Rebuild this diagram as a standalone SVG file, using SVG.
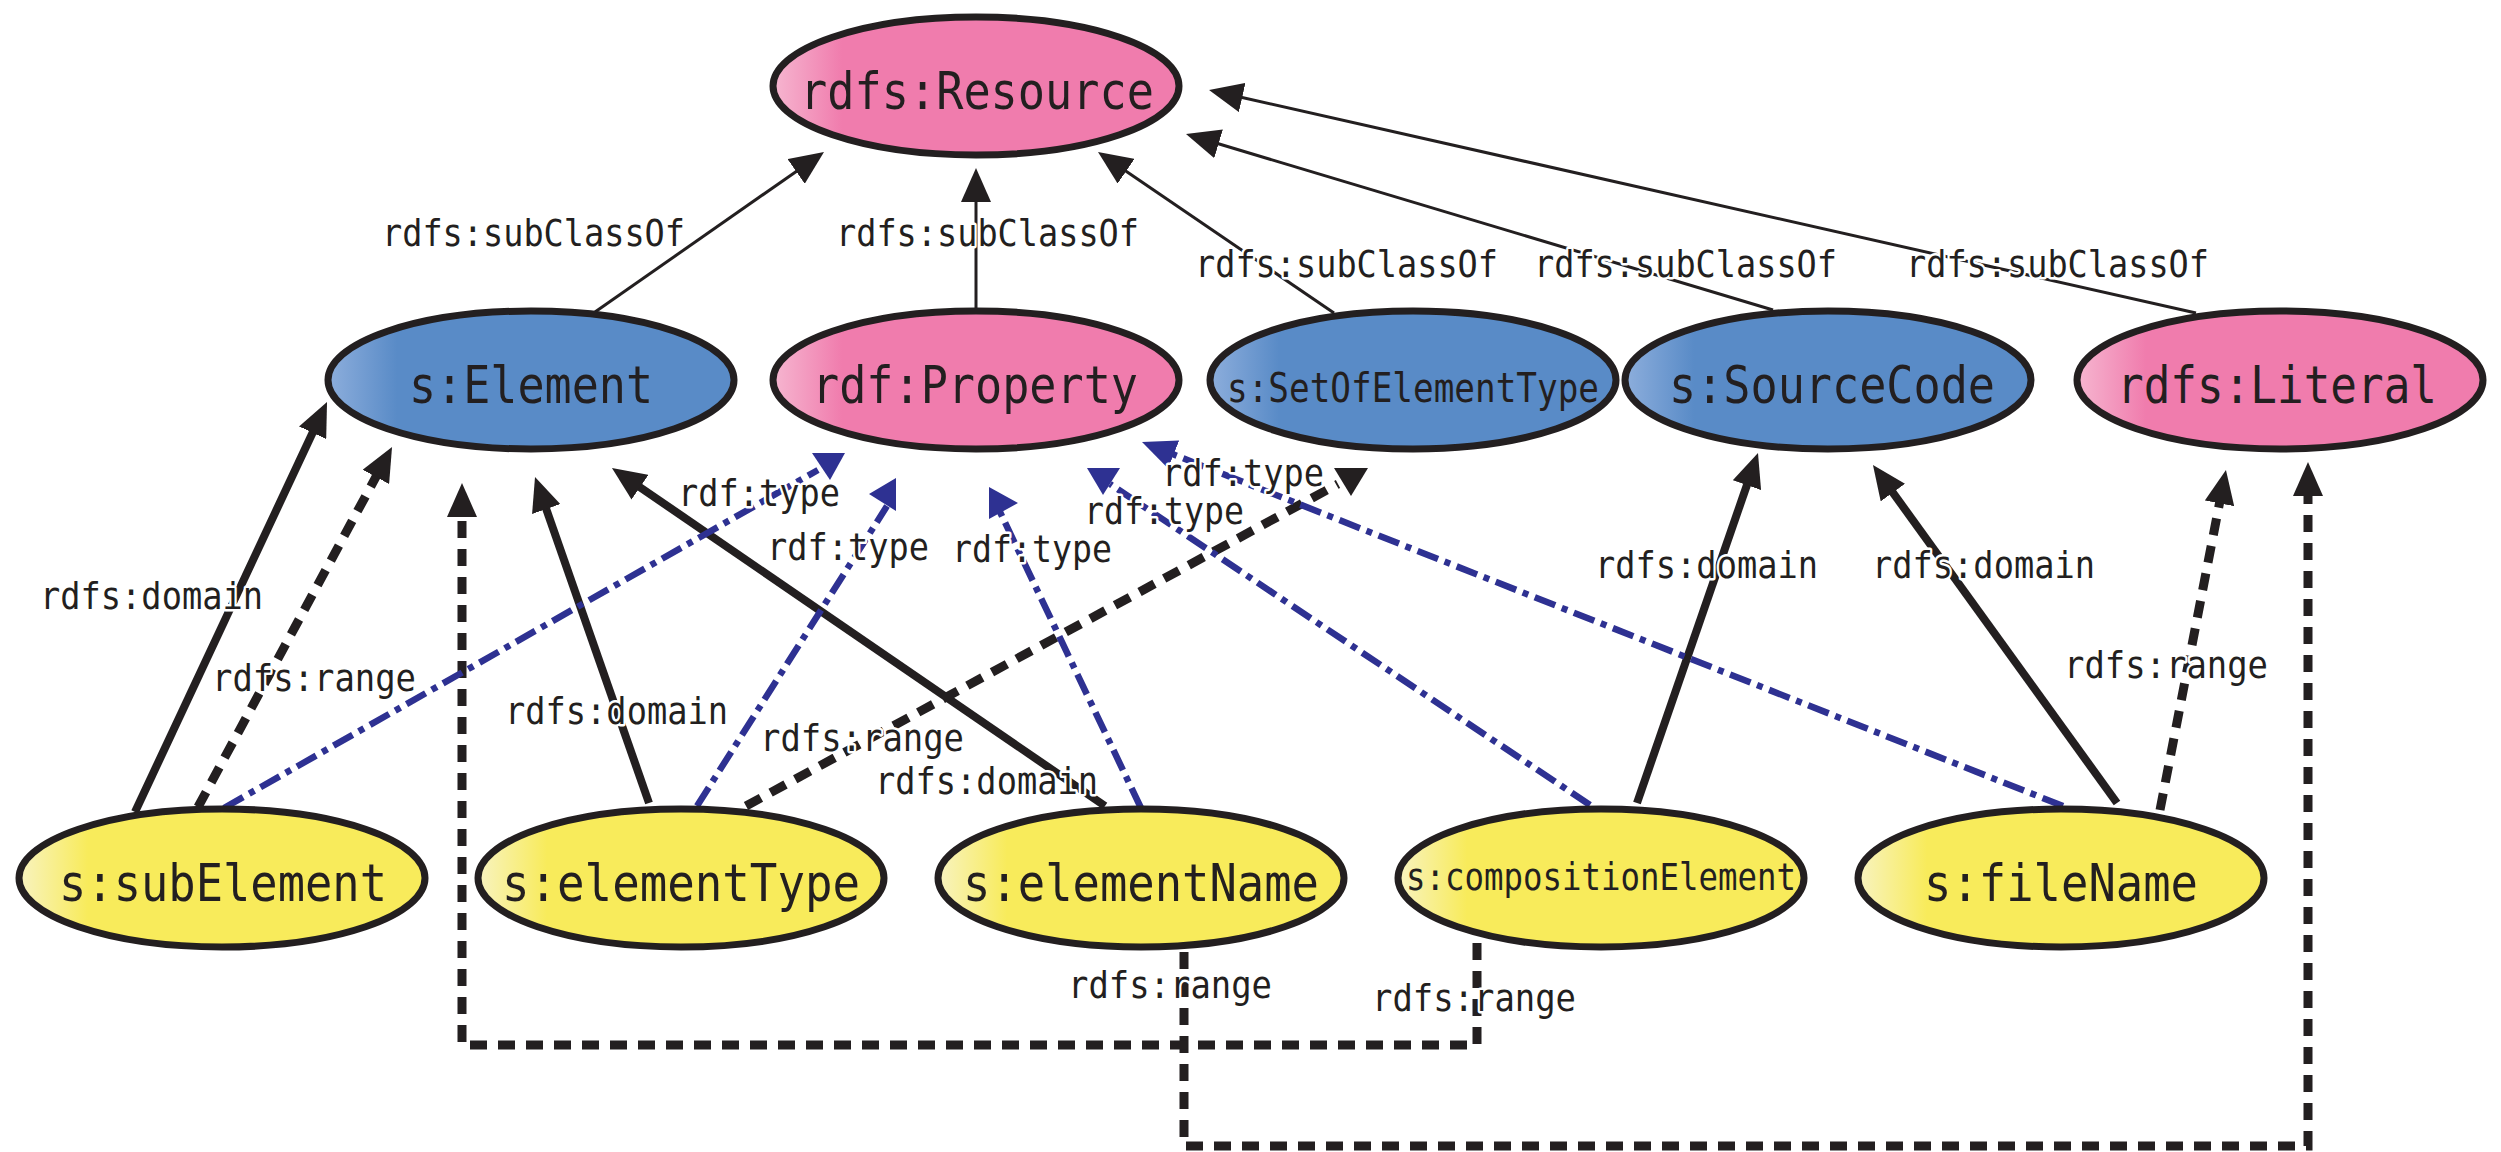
<svg xmlns="http://www.w3.org/2000/svg" xmlns:xlink="http://www.w3.org/1999/xlink" width="2501" height="1152" viewBox="0 0 2501 1152">
  <defs>
    <linearGradient id="gPink" x1="0" y1="0" x2="1" y2="0">
      <stop offset="0" stop-color="#F6B6D0"/>
      <stop offset="0.17" stop-color="#F07CAD"/>
    </linearGradient>
    <linearGradient id="gBlue" x1="0" y1="0" x2="1" y2="0">
      <stop offset="0" stop-color="#8DAEDC"/>
      <stop offset="0.17" stop-color="#598BC7"/>
    </linearGradient>
    <linearGradient id="gYellow" x1="0" y1="0" x2="1" y2="0">
      <stop offset="0" stop-color="#F8F3C0"/>
      <stop offset="0.17" stop-color="#F8EB5B"/>
    </linearGradient>
    <marker id="ahBlack" markerUnits="userSpaceOnUse" viewBox="0 0 34 30" refX="8" refY="15" markerWidth="34" markerHeight="30" orient="auto">
      <path d="M0,0 L34,15 L0,30 Z" fill="#231F20"/>
    </marker>
    <marker id="ahBlue" markerUnits="userSpaceOnUse" viewBox="0 0 34 30" refX="8" refY="15" markerWidth="34" markerHeight="30" orient="auto">
      <path d="M0,0 L34,15 L0,30 Z" fill="#2E3192"/>
    </marker>
  </defs>
  <style>
    .node ellipse { stroke: #231F20; stroke-width: 7; }
    .pink { fill: url(#gPink); }
    .blue { fill: url(#gBlue); }
    .yellow { fill: url(#gYellow); }
    .ntext { font-family: "DejaVu Sans Mono", "Liberation Mono", monospace; font-size: 52px; fill: #231F20; text-anchor: middle; }
    .small { font-size: 40px; }
    .tiny { font-size: 37px; }
    .sub { fill: none; stroke: #231F20; stroke-width: 3; marker-end: url(#ahBlack); }
    .dom { fill: none; stroke: #231F20; stroke-width: 8; marker-end: url(#ahBlack); }
    .rng { fill: none; stroke: #231F20; stroke-width: 9; stroke-dasharray: 17 11; }
    .rngA { marker-end: url(#ahBlack); }
    .typ { fill: none; stroke: #2E3192; stroke-width: 6.5; stroke-dasharray: 22 7 6 7; }
    .typA { marker-end: url(#ahBlue); }
    .headK { fill: #231F20; }
    .headB { fill: #2E3192; }
    .lbl { font-family: "DejaVu Sans Mono", "Liberation Mono", monospace; font-size: 38px; fill: #231F20; stroke: #FFFFFF; stroke-width: 5; stroke-linejoin: round; paint-order: stroke; }
  </style>

  <!-- connectors: properties between classes -->
  <g id="connectors">
    <!-- rdfs:subClassOf -->
    <path class="sub" d="M595,312 L802.7,166.9"/>
    <path class="sub" d="M976,308 L976,194"/>
    <path class="sub" d="M1334,313 L1119.5,166.7"/>
    <path class="sub" d="M1773,310 L1210.9,141.5"/>
    <path class="sub" d="M2196,313 L1234.4,95.7"/>

    <!-- rdfs:domain -->
    <path class="dom" d="M135,812 L316,425.5"/>
    <path class="dom" d="M649,803 L543.6,501.5"/>
    <path class="dom" d="M1105,806 L633.4,482.7"/>
    <path class="dom" d="M1637,803 L1749.5,477.6"/>
    <path class="dom" d="M2117,803 L1888.2,486.1"/>

    <!-- rdfs:range -->
    <path class="rng rngA" d="M198,807 L379.7,469.9"/>
    <path class="rng" d="M746,806 L1338,484"/>
    <polygon class="headK" points="1334,468 1368,468 1351,496"/>
    <path class="rng rngA" d="M1184,952 V1146 H2308 V488"/>
    <path class="rng rngA" d="M1477,943 V1045 H462 V509"/>
    <path class="rng rngA" d="M2160,810 L2221,495.5"/>

    <!-- rdf:type -->
    <path class="typ" d="M224,808 L818,470"/>
    <polygon class="headB" points="812,453 845,453 830,480"/>
    <path class="typ" d="M697,806 L887,506"/>
    <polygon class="headB" points="896,478 896,511 869,494"/>
    <path class="typ" d="M1141,808 L1000,512"/>
    <polygon class="headB" points="989,487 989,519 1018,503"/>
    <path class="typ" d="M1590,805 L1110,484"/>
    <polygon class="headB" points="1087,468 1120,468 1103,495"/>
    <path class="typ typA" d="M2063,806 L1166.2,451.6"/>

    <!-- labels -->
    <text class="lbl" x="382" y="246" textLength="303" lengthAdjust="spacingAndGlyphs">rdfs:subClassOf</text>
    <text class="lbl" x="836" y="246" textLength="303" lengthAdjust="spacingAndGlyphs">rdfs:subClassOf</text>
    <text class="lbl" x="1195" y="277" textLength="303" lengthAdjust="spacingAndGlyphs">rdfs:subClassOf</text>
    <text class="lbl" x="1534" y="277" textLength="303" lengthAdjust="spacingAndGlyphs">rdfs:subClassOf</text>
    <text class="lbl" x="1906" y="277" textLength="303" lengthAdjust="spacingAndGlyphs">rdfs:subClassOf</text>

    <text class="lbl" x="40" y="609" textLength="223" lengthAdjust="spacingAndGlyphs">rdfs:domain</text>
    <text class="lbl" x="505" y="724" textLength="223" lengthAdjust="spacingAndGlyphs">rdfs:domain</text>
    <text class="lbl" x="875" y="794" textLength="223" lengthAdjust="spacingAndGlyphs">rdfs:domain</text>
    <text class="lbl" x="1595" y="578" textLength="223" lengthAdjust="spacingAndGlyphs">rdfs:domain</text>
    <text class="lbl" x="1872" y="578" textLength="223" lengthAdjust="spacingAndGlyphs">rdfs:domain</text>

    <text class="lbl" x="212" y="691" textLength="204" lengthAdjust="spacingAndGlyphs">rdfs:range</text>
    <text class="lbl" x="760" y="751" textLength="204" lengthAdjust="spacingAndGlyphs">rdfs:range</text>
    <text class="lbl" x="1068" y="998" textLength="204" lengthAdjust="spacingAndGlyphs">rdfs:range</text>
    <text class="lbl" x="1372" y="1011" textLength="204" lengthAdjust="spacingAndGlyphs">rdfs:range</text>
    <text class="lbl" x="2064" y="678" textLength="204" lengthAdjust="spacingAndGlyphs">rdfs:range</text>

    <text class="lbl" x="678" y="506" textLength="162" lengthAdjust="spacingAndGlyphs">rdf:type</text>
    <text class="lbl" x="767" y="560" textLength="162" lengthAdjust="spacingAndGlyphs">rdf:type</text>
    <text class="lbl" x="952" y="562" textLength="160" lengthAdjust="spacingAndGlyphs">rdf:type</text>
    <text class="lbl" x="1084" y="524" textLength="160" lengthAdjust="spacingAndGlyphs">rdf:type</text>
    <text class="lbl" x="1162" y="486" textLength="162" lengthAdjust="spacingAndGlyphs">rdf:type</text>
  </g>

  <!-- classes -->
  <g id="rdfs-Resource" class="node">
    <ellipse class="pink" cx="976" cy="86" rx="203" ry="69"/>
    <text class="ntext" x="977" y="109" textLength="354" lengthAdjust="spacingAndGlyphs">rdfs:Resource</text>
  </g>
  <g id="s-Element" class="node">
    <ellipse class="blue" cx="531" cy="380" rx="203" ry="69"/>
    <text class="ntext" x="531" y="403" textLength="244" lengthAdjust="spacingAndGlyphs">s:Element</text>
  </g>
  <g id="rdf-Property" class="node">
    <ellipse class="pink" cx="976" cy="380" rx="203" ry="69"/>
    <text class="ntext" x="975" y="403" textLength="326" lengthAdjust="spacingAndGlyphs">rdf:Property</text>
  </g>
  <g id="s-SetOfElementType" class="node">
    <ellipse class="blue" cx="1413" cy="380" rx="203" ry="69"/>
    <text class="ntext small" x="1413" y="402" textLength="372" lengthAdjust="spacingAndGlyphs">s:SetOfElementType</text>
  </g>
  <g id="s-SourceCode" class="node">
    <ellipse class="blue" cx="1828" cy="380" rx="203" ry="69"/>
    <text class="ntext" x="1832" y="403" textLength="326" lengthAdjust="spacingAndGlyphs">s:SourceCode</text>
  </g>
  <g id="rdfs-Literal" class="node">
    <ellipse class="pink" cx="2280" cy="380" rx="203" ry="69"/>
    <text class="ntext" x="2277" y="403" textLength="320" lengthAdjust="spacingAndGlyphs">rdfs:Literal</text>
  </g>

  <!-- properties -->
  <g id="s-subElement" class="node">
    <ellipse class="yellow" cx="222" cy="878" rx="203" ry="69"/>
    <text class="ntext" x="223" y="901" textLength="328" lengthAdjust="spacingAndGlyphs">s:subElement</text>
  </g>
  <g id="s-elementType" class="node">
    <ellipse class="yellow" cx="681" cy="878" rx="203" ry="69"/>
    <text class="ntext" x="681" y="901" textLength="358" lengthAdjust="spacingAndGlyphs">s:elementType</text>
  </g>
  <g id="s-elementName" class="node">
    <ellipse class="yellow" cx="1141" cy="878" rx="203" ry="69"/>
    <text class="ntext" x="1141" y="901" textLength="356" lengthAdjust="spacingAndGlyphs">s:elementName</text>
  </g>
  <g id="s-compositionElement" class="node">
    <ellipse class="yellow" cx="1601" cy="878" rx="203" ry="69"/>
    <text class="ntext tiny" x="1601" y="890" textLength="390" lengthAdjust="spacingAndGlyphs">s:compositionElement</text>
  </g>
  <g id="s-fileName" class="node">
    <ellipse class="yellow" cx="2061" cy="878" rx="203" ry="69"/>
    <text class="ntext" x="2061" y="901" textLength="274" lengthAdjust="spacingAndGlyphs">s:fileName</text>
  </g>
</svg>
